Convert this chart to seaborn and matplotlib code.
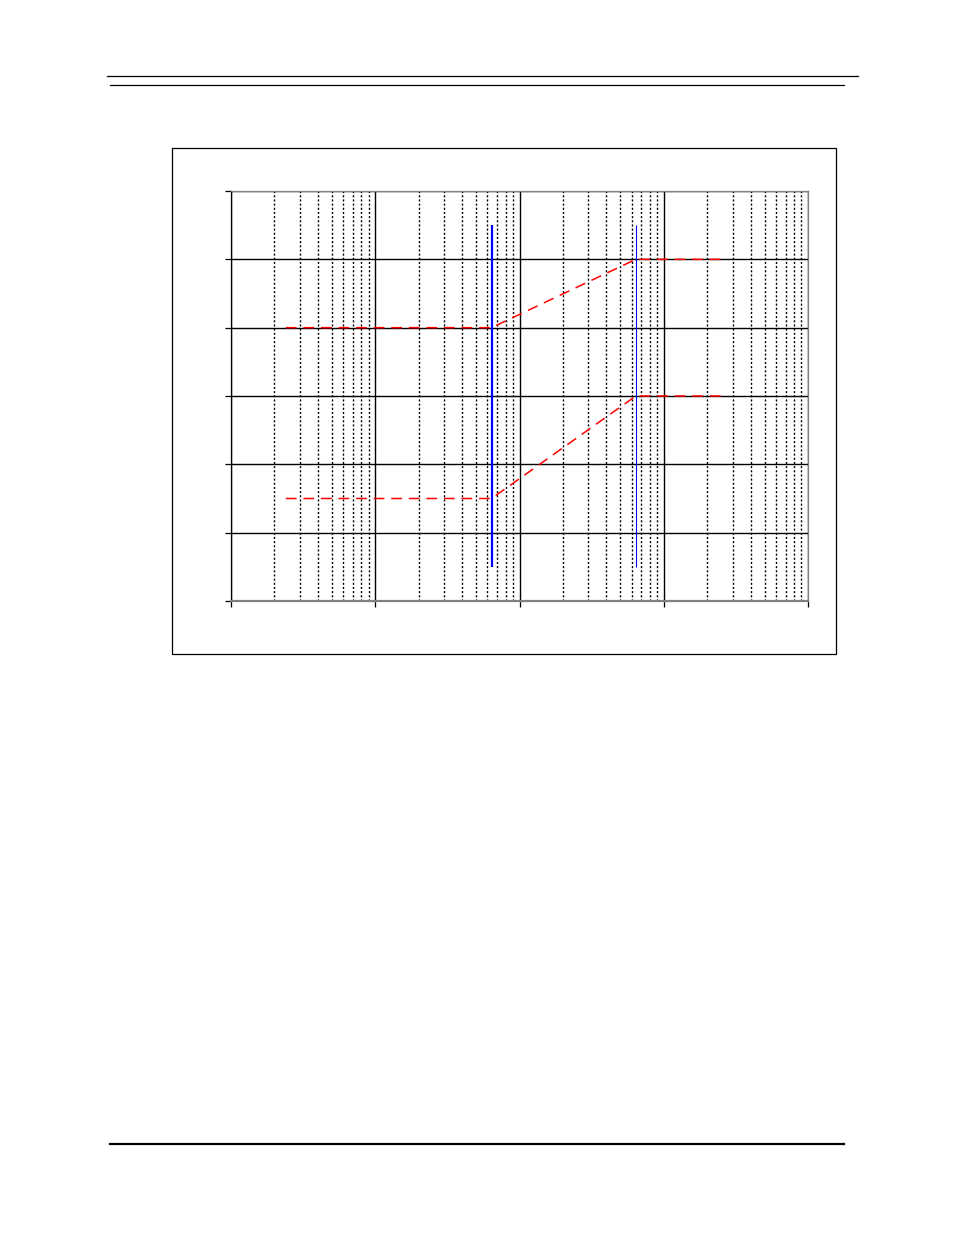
import matplotlib
matplotlib.use("Agg")
import matplotlib.pyplot as plt
from matplotlib.lines import Line2D
from matplotlib.patches import Rectangle
import numpy as np
import pandas as pd
import seaborn as sns

# break-point frequencies (log axis) and levels of the two red asymptote curves
freq = [2.4, 64, 640, 2550]
lower_level = [1.5, 1.5, 3, 3]
upper_level = [4, 4, 5, 5]

# blue vertical markers
marker_freq = [64, 640]
marker_bottom = [0.5, 0.5]
marker_top = [5.5, 5.5]
marker_width = [1.6, 0.8]

W, H = 954, 1235
fig = plt.figure(figsize=(W / 100, H / 100), dpi=100)

# page rules
def hline(x0, x1, y, lw):
    fig.add_artist(Line2D([x0 / W, x1 / W], [1 - y / H, 1 - y / H], color="black", lw=lw))

hline(107, 858, 75.5, 0.9)
hline(110, 844, 84.5, 0.9)
hline(110, 844, 1143.5, 1.6)

# chart frame
fig.add_artist(Rectangle((172 / W, 1 - 654 / H), (836 - 172) / W, (654 - 148) / H,
                         fill=False, edgecolor="black", lw=0.9, transform=fig.transFigure))

ax = fig.add_axes([231 / W, 1 - 601 / H, (808 - 231) / W, (601 - 191) / H])
ax.set_xscale("log")
ax.set_xlim(1, 1e4)
ax.set_ylim(0, 6)

# grid
ax.set_xticks([1, 10, 100, 1000, 10000])
ax.set_yticks(range(7))
ax.xaxis.set_minor_locator(matplotlib.ticker.LogLocator(base=10, subs=np.arange(2, 10)))
ax.grid(which="major", color="black", lw=1.0, ls="-", zorder=1)
ax.grid(which="minor", axis="x", color="black", lw=1.0, ls=(0, (1.5, 1.5)), zorder=1)
ax.set_axisbelow(True)
ax.tick_params(which="major", length=4, width=0.9, color="black",
               labelbottom=False, labelleft=False, direction="out")
ax.tick_params(which="minor", length=0)

for side in ["top", "right"]:
    ax.spines[side].set_color("gray")
    ax.spines[side].set_linewidth(0.9)
ax.spines["left"].set_color("black")
ax.spines["left"].set_linewidth(0.9)
ax.spines["bottom"].set_color("gray")
ax.spines["bottom"].set_linewidth(1.6)

# blue markers
for f, b, t, w in zip(marker_freq, marker_bottom, marker_top, marker_width):
    ax.vlines(f, b, t, color="#0000ff", lw=w, zorder=3)

# red dashed curves
df = pd.DataFrame({
    "freq": freq * 2,
    "level": lower_level + upper_level,
    "curve": ["lower"] * len(freq) + ["upper"] * len(freq),
})
for name, grp in df.groupby("curve"):
    sns.lineplot(data=grp, x="freq", y="level", ax=ax, color="red", lw=1.1,
                 dashes=False, sort=False, zorder=4).lines[-1].set_dashes((7, 4.5))

ax.set_xlabel("")
ax.set_ylabel("")

fig.savefig("out.png", dpi=100)
